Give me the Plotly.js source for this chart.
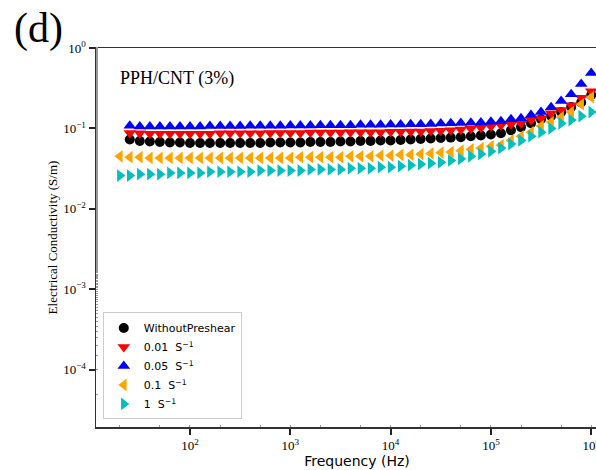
<!DOCTYPE html>
<html>
<head>
<meta charset="utf-8">
<script src="https://cdn.plot.ly/plotly-3.0.1.min.js"></script>
<style>html,body{margin:0;padding:0;background:#fff;overflow:hidden}#chart{width:620px;height:470px}</style>
</head>
<body>
<div id="chart"></div>
<script>
// Frequencies (Hz), 10 points per decade
const freqA = [25.1, 31.6, 39.8, 50.1, 63.1, 79.4,
  100, 126, 158, 200, 251, 316, 398, 501, 631, 794,
  1000, 1259, 1585, 1995, 2512, 3162, 3981, 5012, 6310, 7943,
  10000, 12589, 15849, 19953, 25119, 31623, 39811, 50119, 63096, 79433,
  100000, 125893, 158489, 199526, 251189, 316228, 398107, 501187, 630957, 794328,
  1000000];
const freqB = [20.0, 25.1, 31.6, 39.8, 50.1, 63.1, 79.4,
  100, 126, 158, 200, 251, 316, 398, 501, 631, 794,
  1000, 1259, 1585, 1995, 2512, 3162, 3981, 5012, 6310, 7943,
  10000, 12589, 15849, 19953, 25119, 31623, 39811, 50119, 63096, 79433,
  100000, 125893, 158489, 199526, 251189, 316228, 398107, 501187, 630957, 794328,
  1000000];

const withoutPreshear = [0.073, 0.070, 0.069, 0.068, 0.067, 0.067, 0.066, 0.066, 0.066, 0.066,
  0.066, 0.066, 0.066, 0.066, 0.067, 0.067, 0.067, 0.067, 0.068, 0.068,
  0.068, 0.069, 0.069, 0.070, 0.070, 0.071, 0.071, 0.072, 0.073, 0.074,
  0.075, 0.076, 0.077, 0.078, 0.080, 0.082, 0.084,
  0.087, 0.095, 0.104, 0.116, 0.130, 0.143, 0.160, 0.185, 0.210, 0.260];
const shear001 = [0.088, 0.087, 0.086, 0.086, 0.086, 0.086, 0.086, 0.086, 0.086, 0.087,
  0.087, 0.087, 0.087, 0.087, 0.088, 0.088, 0.088, 0.088, 0.089, 0.089,
  0.089, 0.089, 0.090, 0.090, 0.090, 0.090, 0.091, 0.091, 0.092, 0.092,
  0.093, 0.094, 0.095, 0.097, 0.099, 0.102, 0.106,
  0.110, 0.113, 0.116, 0.127, 0.134, 0.155, 0.170, 0.195, 0.240, 0.290];
const shear005 = [0.108, 0.106, 0.106, 0.106, 0.106, 0.106, 0.106, 0.106, 0.107, 0.107,
  0.107, 0.107, 0.108, 0.108, 0.108, 0.108, 0.109, 0.109, 0.109, 0.110,
  0.110, 0.110, 0.110, 0.111, 0.111, 0.111, 0.112, 0.112, 0.113, 0.113,
  0.114, 0.115, 0.116, 0.117, 0.118, 0.119, 0.121,
  0.123, 0.130, 0.134, 0.147, 0.160, 0.184, 0.219, 0.267, 0.356, 0.490];
const shear01 = [0.045, 0.044, 0.044, 0.043, 0.043, 0.043, 0.043, 0.043, 0.043, 0.043,
  0.043, 0.043, 0.043, 0.043, 0.043, 0.043, 0.043, 0.043, 0.044, 0.044,
  0.044, 0.044, 0.044, 0.045, 0.045, 0.045, 0.046, 0.046, 0.047, 0.047,
  0.048, 0.049, 0.050, 0.051, 0.053, 0.055, 0.057, 0.060,
  0.062, 0.071, 0.080, 0.090, 0.107, 0.120, 0.138, 0.160, 0.200, 0.245];
const shear1 = [0.026, 0.026, 0.027, 0.027, 0.027, 0.028, 0.028, 0.028, 0.028, 0.029,
  0.029, 0.029, 0.029, 0.029, 0.030, 0.030, 0.030, 0.030, 0.030, 0.031,
  0.031, 0.031, 0.031, 0.032, 0.032, 0.032, 0.033, 0.033, 0.034, 0.035,
  0.036, 0.037, 0.038, 0.040, 0.042, 0.045, 0.048, 0.052,
  0.057, 0.064, 0.071, 0.080, 0.090, 0.100, 0.116, 0.127, 0.142, 0.160];

const seriesNames = ['WithoutPreshear', '0.01  S<sup>−1</sup>', '0.05  S<sup>−1</sup>', '0.1  S<sup>−1</sup>', '1  S<sup>−1</sup>'];
const seriesColors = ['#000000', '#ff0000', '#0000ff', '#ffa500', '#00bfbf'];
const seriesSymbols = ['circle', 'triangle-down', 'triangle-up', 'triangle-left', 'triangle-right'];
const seriesX = [freqA, freqA, freqA, freqB, freqB];
const seriesY = [withoutPreshear, shear001, shear005, shear01, shear1];
const seriesSizes = [10, 11, 11, 11, 11];

const xTickVals = [100, 1000, 10000, 100000, 1000000];
const xTickText = ['10<sup>2</sup>', '10<sup>3</sup>', '10<sup>4</sup>', '10<sup>5</sup>', '10<sup>6</sup>'];
const yTickVals = [0.0001, 0.001, 0.01, 0.1, 1];
const yTickText = ['10<sup>−4</sup>', '10<sup>−3</sup>', '10<sup>−2</sup>', '10<sup>−1</sup>', '10<sup>0</sup>'];

const traces = seriesY.map((y, i) => ({
  type: 'scatter', mode: 'markers', name: seriesNames[i],
  x: seriesX[i], y: y,
  marker: {symbol: seriesSymbols[i], color: seriesColors[i], size: seriesSizes[i], line: {width: 0}}
}));

const serif = 'Liberation Serif, Times New Roman, serif';
const sans = 'DejaVu Sans, sans-serif';

const layout = {
  width: 620, height: 470,
  margin: {l: 96, r: 2, t: 48, b: 43},
  paper_bgcolor: '#fff', plot_bgcolor: '#fff',
  showlegend: true,
  xaxis: {
    type: 'log', range: [1.063, 6.267], autorange: false,
    showgrid: false, zeroline: false,
    showline: true, linecolor: '#333', linewidth: 1.5, mirror: true,
    ticks: 'outside', ticklen: 6, tickwidth: 2, tickcolor: '#222',
    tickvals: xTickVals, ticktext: xTickText,
    tickfont: {family: serif, size: 13, color: '#000'},
    minor: {ticks: 'inside', ticklen: 2, tickcolor: '#999', tickwidth: 1, showgrid: false},
    title: {text: 'Frequency (Hz)', font: {family: sans, size: 14, color: '#000'}, standoff: 4}
  },
  yaxis: {
    type: 'log', range: [-4.71, 0], autorange: false,
    showgrid: false, zeroline: false,
    showline: true, linecolor: '#333', linewidth: 1.5, mirror: true,
    ticks: 'outside', ticklen: 6, tickwidth: 2, tickcolor: '#222',
    tickvals: yTickVals, ticktext: yTickText,
    tickfont: {family: serif, size: 13, color: '#000'},
    minor: {ticks: 'inside', ticklen: 2, tickcolor: '#999', tickwidth: 1, showgrid: false},
    title: {text: 'Electrical Conductivity (S/m)', font: {family: serif, size: 13, color: '#000'}, standoff: 2}
  },
  legend: {
    x: 0.013, y: 0.02, xanchor: 'left', yanchor: 'bottom',
    bgcolor: 'rgba(255,255,255,0.9)', bordercolor: '#cccccc', borderwidth: 1,
    font: {family: sans, size: 11, color: '#000'},
    tracegroupgap: 0
  },
  annotations: [
    {text: '(d)', xref: 'paper', yref: 'paper', x: -0.161, y: 1.118, xanchor: 'left', yanchor: 'top',
     showarrow: false, font: {family: serif, size: 42, color: '#000'}},
    {text: 'PPH/CNT (3%)', xref: 'paper', yref: 'paper', x: 0.043, y: 0.952, xanchor: 'left', yanchor: 'top',
     showarrow: false, font: {family: serif, size: 18, color: '#000'}}
  ]
};

Plotly.newPlot('chart', traces, layout, {displayModeBar: false, staticPlot: true});
</script>
</body>
</html>
